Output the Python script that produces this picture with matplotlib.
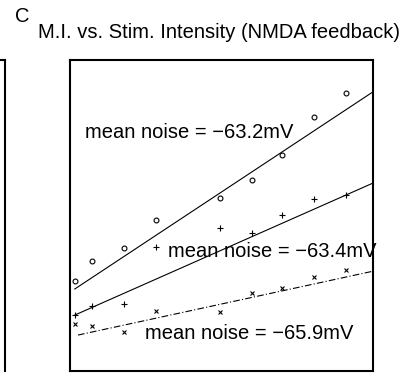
import numpy as np
import matplotlib
matplotlib.use("Agg")
import matplotlib.pyplot as plt

plt.rcParams['font.family'] = ['Liberation Sans', 'DejaVu Sans']

# stimulus intensity (arbitrary units) and mutual information per noise level
stim = [0.3, 1.4, 3.4, 5.4, 9.4, 11.4, 13.3, 15.3, 17.3]
mi_632 = [0.289, 0.354, 0.395, 0.486, 0.556, 0.614, 0.695, 0.817, 0.894]
mi_634 = [0.180, 0.209, 0.215, 0.399, 0.460, 0.444, 0.502, 0.553, 0.566]
mi_659 = [0.151, 0.145, 0.125, 0.193, 0.190, 0.251, 0.267, 0.302, 0.325]

# fitted lines (slope, intercept)
fit_632 = (0.0339, 0.2535)
fit_634 = (0.0227, 0.173)
fit_659 = (0.0111, 0.110)

labels = ["mean noise = \u221263.2mV", "mean noise = \u221263.4mV", "mean noise = \u221265.9mV"]

fig = plt.figure(figsize=(4.16, 3.73), dpi=100)
ax = fig.add_axes([70/416, 2/373, 303/416, 311/373])
xmax = 19

def fit_line(fit, x0, style):
    xs = np.array([x0, xmax])
    ax.plot(xs, fit[0]*xs + fit[1], color='black', lw=0.8, linestyle=style)

ax.plot(stim, mi_632, 'o', mfc='none', mec='black', ms=3.5, mew=0.8)
ax.plot(stim, mi_634, '+', color='black', ms=4, mew=0.8)
ax.plot(stim, mi_659, 'x', color='black', ms=3.5, mew=0.8)
fit_line(fit_632, stim[0], '-')
fit_line(fit_634, stim[0], '-')
fit_line(fit_659, 0.5, (0, (6, 2, 1, 2)))

fs = 14.5
ax.text(0.94, 0.768, labels[0], fontsize=fs, va='center')
ax.text(6.15, 0.383, labels[1], fontsize=fs, va='center')
ax.text(4.70, 0.122, labels[2], fontsize=fs, va='center')

ax.set_xlim(0, xmax)
ax.set_ylim(0, 1)
ax.set_xticks([])
ax.set_yticks([])
for s in ax.spines.values():
    s.set_linewidth(1.5)

# edge of the neighbouring panel
ax2 = fig.add_axes([-0.1, 2/373, 0.1 + 5/416, 311/373])
ax2.set_xticks([])
ax2.set_yticks([])
ax2.spines['left'].set_visible(False)
ax2.spines['bottom'].set_visible(False)
ax2.spines['right'].set_linewidth(1.5)
ax2.spines['top'].set_linewidth(1.5)

fig.text(22/416, 1 - 17/373, "C", fontsize=fs, ha='center', va='center')
fig.text(219/416, 1 - 33/373, "M.I. vs. Stim. Intensity (NMDA feedback)",
         fontsize=fs, ha='center', va='center')

fig.savefig("out.png", dpi=100)
